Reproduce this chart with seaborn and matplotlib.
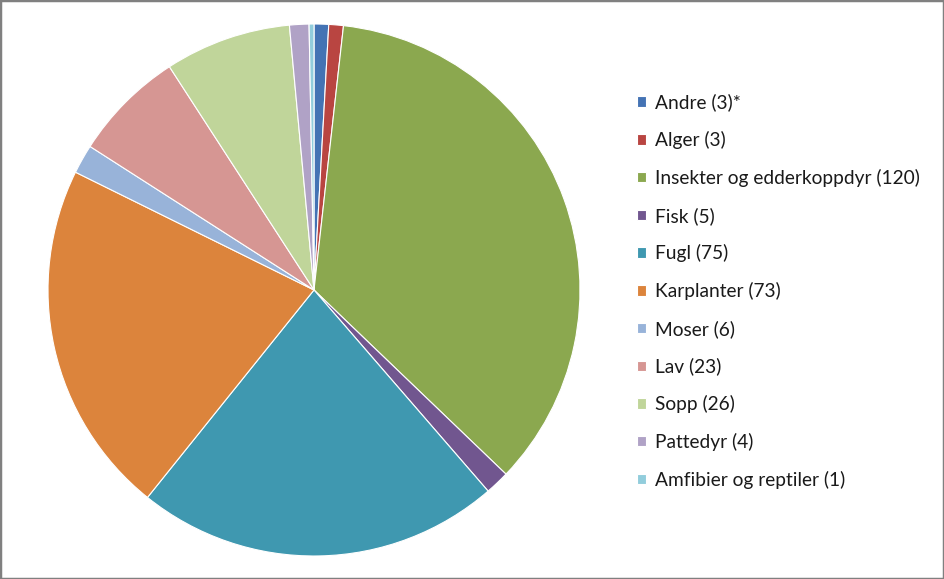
import matplotlib
matplotlib.use("Agg")
import matplotlib.pyplot as plt
from matplotlib.patches import Rectangle
import seaborn as sns

categories = ["Andre", "Alger", "Insekter og edderkoppdyr", "Fisk", "Fugl",
              "Karplanter", "Moser", "Lav", "Sopp", "Pattedyr", "Amfibier og reptiler"]
values = [3, 3, 120, 5, 75, 73, 6, 23, 26, 4, 1]
notes = ["*", "", "", "", "", "", "", "", "", "", ""]
colors = ["#4473B4", "#B94541", "#8BA84F", "#71568F", "#3F98B0", "#DC843C",
          "#98B3D9", "#D69693", "#C0D59A", "#B0A2C6", "#92CDDC"]

sns.set_theme(style="white")
plt.rcParams['font.family'] = ['Lato', 'DejaVu Sans']

W, H = 944, 579
fig = plt.figure(figsize=(W / 100, H / 100), dpi=100)
fig.patch.set_facecolor("white")

cx, cy, r = 314, 290, 266
ax = fig.add_axes([(cx - r) / W, (H - cy - r) / H, 2 * r / W, 2 * r / H])
wedges, _ = ax.pie(values, colors=colors, startangle=90, counterclock=False,
                   radius=1.0, wedgeprops=dict(edgecolor="white", linewidth=0.8))
ax.set_xlim(-1, 1)
ax.set_ylim(-1, 1)
ax.set_aspect("equal")
ax.axis("off")

labels = [f"{c} ({v}){n}" for c, v, n in zip(categories, values, notes)]
leg = fig.legend(wedges, labels, loc="upper left",
                 bbox_to_anchor=(637 / W, 1 - 93.5 / H), frameon=False,
                 fontsize=13.8, handlelength=0.45, handleheight=0.45,
                 handletextpad=0.5, labelspacing=1.03, borderpad=0,
                 borderaxespad=0)
for t in leg.get_texts():
    t.set_color("#1a1a1a")

fig.patches.append(Rectangle((0, 0), 1, 1, transform=fig.transFigure,
                             fill=False, edgecolor="#808080", linewidth=2.5))

fig.savefig("out.png", dpi=100)
